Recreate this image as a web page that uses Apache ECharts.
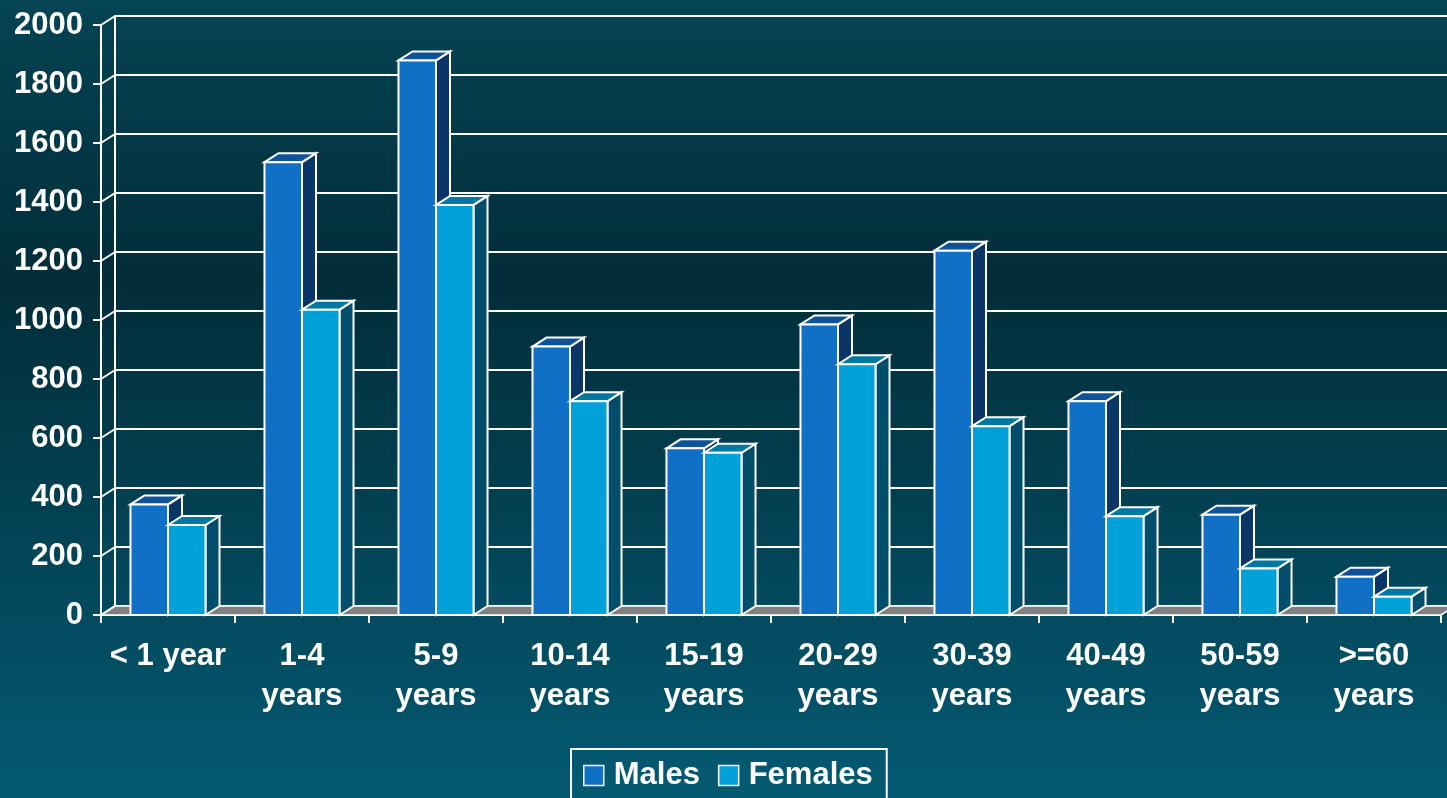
<!DOCTYPE html>
<html>
<head>
<meta charset="utf-8">
<script src="https://cdn.jsdelivr.net/npm/echarts@6/dist/echarts.min.js"></script>
<style>
html,body{margin:0;padding:0;}
#chart{width:1447px;height:798px;}
</style>
</head>
<body>
<div id="chart"></div>
<script>
const categories = ['< 1 year','1-4\nyears','5-9\nyears','10-14\nyears','15-19\nyears','20-29\nyears','30-39\nyears','40-49\nyears','50-59\nyears','>=60\nyears'];
const males = [375, 1535, 1880, 910, 565, 985, 1235, 725, 340, 130];
const females = [305, 1035, 1390, 725, 550, 850, 640, 335, 158, 62];
const yTicks = [0, 200, 400, 600, 800, 1000, 1200, 1400, 1600, 1800, 2000];

const DX = 14, DY = 9;
const FONT = "'Liberation Sans', Arial, sans-serif";
const maleColors = {front: '#1070C5', top: '#0E5299', side: '#0B3566'};
const femaleColors = {front: '#00A0D8', top: '#0078A2', side: '#004E6C'};

function bar3d(isMale, c) {
  return function (params, api) {
    const i = api.value(0), v = api.value(1);
    const base = api.coord([i, 0]);
    const top = api.coord([i, v]);
    const bw = api.size([1, 0])[0];
    const w = bw * 0.28;
    const x0 = isMale ? base[0] - w : base[0];
    const x1 = x0 + w;
    const t = top[1], b = base[1];
    const st = {stroke: '#fff', lineWidth: 2, lineJoin: 'miter'};
    return {
      type: 'group',
      children: [
        {type: 'polygon', shape: {points: [[x1, t], [x1 + DX, t - DY], [x1 + DX, b - DY], [x1, b]]}, style: Object.assign({fill: c.side}, st)},
        {type: 'polygon', shape: {points: [[x0, t], [x0 + DX, t - DY], [x1 + DX, t - DY], [x1, t]]}, style: Object.assign({fill: c.top}, st)},
        {type: 'rect', shape: {x: x0, y: t, width: w, height: b - t}, style: Object.assign({fill: c.front}, st)}
      ]
    };
  };
}

const chart = echarts.init(document.getElementById('chart'), null, {renderer: 'canvas'});
chart.setOption({
  animation: false,
  backgroundColor: {
    type: 'linear', x: 0, y: 0, x2: 0, y2: 1,
    colorStops: [
      {offset: 0, color: '#054454'},
      {offset: 0.35, color: '#022D39'},
      {offset: 1, color: '#045A72'}
    ]
  },
  textStyle: {fontFamily: FONT},
  grid: [
    {left: 101, right: 6, top: 25, bottom: 183},
    {left: 115, right: 0, top: 16, bottom: 192}
  ],
  xAxis: [
    {
      type: 'category', gridIndex: 0, data: categories, boundaryGap: true,
      axisLine: {show: true, lineStyle: {color: '#fff', width: 2}},
      axisTick: {show: true, length: 8, interval: 0, lineStyle: {color: '#fff', width: 2}},
      axisLabel: {interval: 0, color: '#fff', fontSize: 31, fontWeight: 'bold', fontFamily: FONT, lineHeight: 40, margin: 21}
    },
    {type: 'category', gridIndex: 1, data: categories, show: false}
  ],
  yAxis: [
    {
      type: 'value', gridIndex: 0, min: 0, max: 2000, interval: 200,
      axisLine: {show: true, lineStyle: {color: '#fff', width: 2}},
      axisTick: {show: true, length: 8, lineStyle: {color: '#fff', width: 2}},
      axisLabel: {color: '#fff', fontSize: 31, fontWeight: 'bold', fontFamily: FONT, margin: 18, formatter: v => String(v)},
      splitLine: {show: false}
    },
    {
      type: 'value', gridIndex: 1, min: 0, max: 2000, interval: 200,
      axisLine: {show: true, lineStyle: {color: '#fff', width: 2}},
      axisTick: {show: false},
      axisLabel: {show: false},
      splitLine: {show: true, lineStyle: {color: '#fff', width: 2}}
    }
  ],
  legend: {
    data: [
      {name: 'Males', itemStyle: {color: maleColors.front, borderColor: '#fff', borderWidth: 1.5}},
      {name: 'Females', itemStyle: {color: femaleColors.front, borderColor: '#fff', borderWidth: 1.5}}
    ],
    left: 571, top: 749,
    icon: 'rect', itemWidth: 20, itemHeight: 20, itemGap: 18,
    borderColor: '#fff', borderWidth: 2,
    padding: [11, 14, 30, 12],
    textStyle: {color: '#fff', fontSize: 31, fontWeight: 'bold', fontFamily: FONT, padding: [0, 0, 0, 5]}
  },
  series: [
    {
      type: 'custom', name: 'floor', xAxisIndex: 0, yAxisIndex: 0, z: 1,
      data: [[0, 0]],
      renderItem: function (params, api) {
        const a = api.coord([0, 0]);
        const b = api.coord([categories.length - 1, 0]);
        const h = api.size([1, 0])[0] / 2;
        return {
          type: 'polygon',
          shape: {points: [[a[0] - h, a[1]], [b[0] + h, b[1]], [b[0] + h + DX, b[1] - DY], [a[0] - h + DX, a[1] - DY]]},
          style: {fill: '#808080', stroke: '#fff', lineWidth: 1.5}
        };
      }
    },
    {
      type: 'custom', name: 'Males', xAxisIndex: 0, yAxisIndex: 0, z: 2,
      itemStyle: {color: maleColors.front},
      data: males.map((v, i) => [i, v]),
      renderItem: bar3d(true, maleColors)
    },
    {
      type: 'custom', name: 'Females', xAxisIndex: 0, yAxisIndex: 0, z: 3,
      itemStyle: {color: femaleColors.front},
      data: females.map((v, i) => [i, v]),
      renderItem: bar3d(false, femaleColors)
    },
    {
      type: 'custom', name: 'edges', xAxisIndex: 0, yAxisIndex: 0, z: 4,
      data: yTicks.map(v => [0, v]),
      renderItem: function (params, api) {
        const p = api.coord([0, api.value(1)]);
        const left = p[0] - api.size([1, 0])[0] / 2;
        return {
          type: 'line',
          shape: {x1: left, y1: p[1], x2: left + DX, y2: p[1] - DY},
          style: {stroke: '#fff', lineWidth: 2}
        };
      }
    }
  ]
});
</script>
</body>
</html>
